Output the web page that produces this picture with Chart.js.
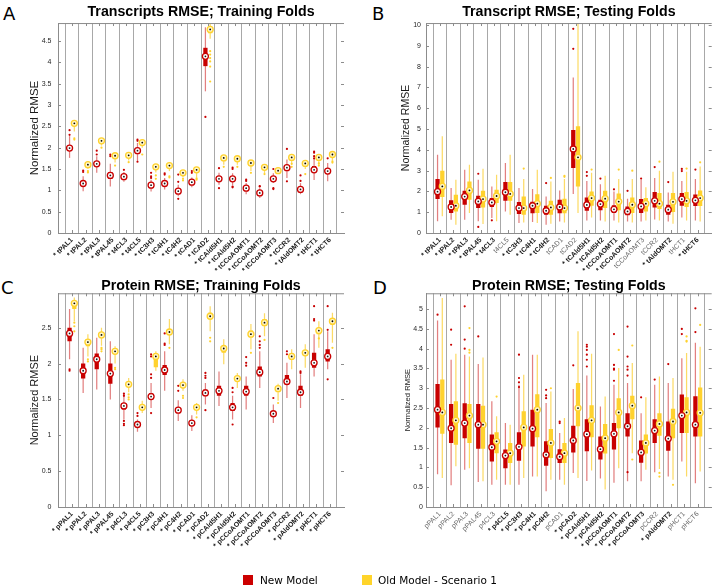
<!DOCTYPE html>
<html>
<head>
<meta charset="utf-8">
<script src="https://cdn.jsdelivr.net/npm/chart.js@4.4.0/dist/chart.umd.min.js"></script>
<style>
  html, body { margin: 0; padding: 0; background: #fff; width: 713px; height: 587px; overflow: hidden; position: relative; }
  canvas { position: absolute; }
  .tag { position: absolute; font: 18px "DejaVu Sans", sans-serif; line-height: 18px; color: #000; }
  .sq { position: absolute; top: 575px; width: 10px; height: 10px; }
  .leg { position: absolute; top: 573.5px; font: 10.5px "DejaVu Sans", sans-serif; line-height: 12px; color: #000; white-space: nowrap; }
</style>
</head>
<body>
<div class="tag" style="left:3px;top:5px">A</div>
<div class="tag" style="left:372px;top:5px">B</div>
<div class="tag" style="left:1px;top:279px">C</div>
<div class="tag" style="left:373px;top:279px">D</div>

<canvas id="cA" width="356" height="282" style="left:0;top:0"></canvas>
<canvas id="cB" width="360" height="282" style="left:356px;top:0"></canvas>
<canvas id="cC" width="356" height="307" style="left:0;top:280px"></canvas>
<canvas id="cD" width="360" height="307" style="left:356px;top:280px"></canvas>

<div class="sq" style="left:243px;background:#cc0000"></div>
<div class="leg" style="left:260px">New Model</div>
<div class="sq" style="left:362px;background:#ffd42a"></div>
<div class="leg" style="left:378px">Old Model - Scenario 1</div>

<script>
// gene names shared by all four panels
const genes = ['PAL1', 'PAL2', 'PAL3', 'PAL45', '4CL3', '4CL5', 'C3H3', 'C4H1', 'C4H2', 'CAD1',
               'CAD2', 'CAld5H1', 'CAld5H2', 'CCoAOMT1', 'CCoAOMT2', 'CCoAOMT3', 'CCR2', 'AldOMT2', 'HCT1', 'HCT6'];

// significance marks (* and bold label)
const sigA = [1,1,1,1,1,1,1,1,1,1,1,1,1,1,1,1,1,1,1,1];
const sigB = [1,1,1,1,1,0,1,1,1,0,0,1,1,1,1,0,0,1,0,1];
const sigC = [1,1,1,1,1,1,1,1,1,1,1,1,1,1,1,1,1,1,1,1];
const sigD = [0,0,0,0,0,1,1,1,1,0,1,1,1,1,1,1,0,1,0,0];

// A - transcripts, training folds
const aNewMed = [1.99,1.16,1.62,1.35,1.32,1.93,1.12,1.16,0.98,1.19,4.14,1.27,1.27,1.05,0.94,1.27,1.53,1.02,1.48,1.45];
const aNewBox = [[1.93,2.05],[1.11,1.2],[1.56,1.66],[1.27,1.43],[1.28,1.36],[1.88,1.97],[1.08,1.16],[1.12,1.2],[0.94,1.02],[1.15,1.23],
                 [3.91,4.34],[1.23,1.31],[1.23,1.31],[1.01,1.09],[0.9,0.98],[1.23,1.31],[1.48,1.57],[0.98,1.06],[1.44,1.57],[1.38,1.49]];
const aNewWhisk = [[1.76,2.27],[0.98,1.33],[1.41,1.8],[1.09,1.62],[1.2,1.43],[1.68,2.11],[0.97,1.25],[1.02,1.29],[0.86,1.13],[1.07,1.3],
                   [3.32,4.82],[1.13,1.41],[1.12,1.4],[0.91,1.17],[0.82,1.05],[1.17,1.4],[1.29,1.72],[0.91,1.17],[1.24,1.76],[1.21,1.64]];
const aNewOut = [[2.41,2.3],[1.43,1.46],[1.93,1.84],[1.84,1.8],[1.48],[2.19,2.16,1.67],[1.33,1.41,1.29],[1.37,1.4],[1.37,1.2,0.8],[1.41,1.45],
                 [2.72],[1.52,1.05],[1.5,1.53,1.07,1.09],[1.25,1.22],[1.09,1.1],[1.5,1.05,1.03],[1.97,1.21],[1.35,1.22],[1.91,1.88,1.8,1.75],[1.75]];
const aOldMed = [2.57,1.6,2.16,1.81,1.82,2.12,1.55,1.58,1.41,1.48,4.77,1.76,1.74,1.64,1.54,1.46,1.77,1.63,1.77,1.84];
const aOldBox = [[2.53,2.61],[1.56,1.63],[2.13,2.19],[1.78,1.84],[1.79,1.84],[2.09,2.15],[1.52,1.58],[1.55,1.61],[1.38,1.44],[1.45,1.51],
                 [4.68,4.83],[1.73,1.79],[1.71,1.77],[1.61,1.67],[1.51,1.57],[1.43,1.49],[1.74,1.8],[1.6,1.66],[1.74,1.8],[1.81,1.87]];
const aOldWhisk = [[2.38,2.64],[1.5,1.65],[2.05,2.2],[1.65,1.86],[1.7,1.86],[2,2.17],[1.42,1.6],[1.45,1.62],[1.3,1.45],[1.3,1.52],
                   [4.55,4.9],[1.6,1.8],[1.6,1.78],[1.45,1.68],[1.4,1.58],[1.38,1.5],[1.6,1.81],[1.5,1.67],[1.6,1.82],[1.7,1.88]];
const aOldOut = [[2.19,2.22],[1.42,1.45],[2],[1.58],[1.66],[1.84],[1.35,1.27],[1.33,1.3],[1.23,1.27],[1.25,1.28],
                 [4.26,4.18,4.1,4.02,3.9,3.55],[1.55],[1.55],[1.41],[1.38],[],[1.62,1.55],[1.38],[1.63,1.58],[1.65,1.68]];

// B - transcripts, testing folds
const bNewMed = [1.99,1.25,1.75,1.52,1.47,1.96,1.2,1.31,1.07,1.25,4.04,1.35,1.39,1.14,1.04,1.28,1.55,1.12,1.63,1.57];
const bNewBox = [[1.63,2.6],[0.96,1.57],[1.36,2.03],[1.2,1.79],[1.25,1.68],[1.55,2.45],[0.91,1.49],[0.95,1.5],[0.88,1.31],[0.95,1.6],
                 [3.13,4.95],[1.07,1.71],[1.09,1.6],[0.96,1.33],[0.85,1.28],[0.96,1.63],[1.23,1.97],[0.88,1.36],[1.31,1.92],[1.3,1.85]];
const bNewWhisk = [[0.56,3.77],[0.64,2.16],[0.64,3.04],[0.56,2.56],[0.72,2.24],[1.04,3.37],[0.48,2.16],[0.53,2.12],[0.4,1.76],[0.55,2.05],
                   [1.88,7.48],[0.6,2.5],[0.6,2.35],[0.6,2],[0.55,1.65],[0.55,2.55],[0.65,2.65],[0.55,1.95],[0.75,2.5],[0.6,2.6]];
const bNewOut = [[],[],[],[2.85,0.29],[0.61],[],[],[],[2.4],[],
                 [9.82,8.86],[2.93,2.75],[2.62],[2.1],[2.03],[2.62],[3.17],[2.45],[3.08,2.98],[3.05]];
const bOldMed = [2.24,1.31,2.05,1.63,1.78,1.88,1.2,1.41,1.23,1.2,3.64,1.68,1.65,1.51,1.36,1.41,1.41,1.5,1.55,1.68];
const bOldBox = [[1.73,3],[1.04,1.84],[1.6,2.48],[1.23,2.03],[1.44,2.08],[1.55,2.45],[0.88,1.76],[0.96,1.87],[0.88,1.55],[0.95,1.65],
                 [2.24,5.13],[1.31,2],[1.2,2.03],[1.1,1.9],[0.96,1.71],[1.04,1.68],[1.15,1.92],[1.01,1.92],[1.25,1.97],[1.3,2.05]];
const bOldWhisk = [[0.8,4.65],[0.4,2.56],[0.96,3.28],[0.43,3.09],[0.56,2.8],[0.88,3.77],[0.5,2.6],[0.48,3.04],[0.45,2.48],[0.5,2.6],
                   [0.96,10.1],[0.75,2.9],[0.55,2.75],[0.5,2.6],[0.5,2.6],[0.6,2.2],[0.6,3],[0.45,2.95],[0.6,2.95],[0.55,3.2]];
const bOldOut = [[],[],[],[],[],[],[3.1],[],[2.65],[2.75,2.7],
                 [],[3.05],[],[3.05],[3],[],[3.43],[],[3.1],[3.4]];

// C - proteins, training folds
const cNewMed = [2.42,1.9,2.06,1.86,1.41,1.15,1.54,1.91,1.35,1.17,1.59,1.62,1.39,1.61,1.88,1.3,1.75,1.6,2.01,2.1];
const cNewBox = [[2.31,2.5],[1.79,2],[1.92,2.14],[1.72,2],[1.36,1.45],[1.12,1.18],[1.5,1.59],[1.84,1.98],[1.31,1.38],[1.14,1.2],
                 [1.55,1.64],[1.55,1.69],[1.34,1.45],[1.55,1.69],[1.82,1.96],[1.27,1.33],[1.7,1.84],[1.55,1.69],[1.94,2.15],[2.03,2.2]];
const cNewWhisk = [[2.06,2.76],[1.59,2.22],[1.64,2.36],[1.5,2.31],[1.22,1.59],[1.05,1.22],[1.38,1.73],[1.62,2.17],[1.2,1.49],[1.06,1.28],
                   [1.43,1.73],[1.41,1.89],[1.22,1.55],[1.36,1.82],[1.66,2.17],[1.17,1.43],[1.52,2.01],[1.38,1.85],[1.82,2.41],[1.92,2.45]];
const cNewOut = [[1.92,1.9],[],[],[],[1.58,1.55,1.2,1.16,1.14],[1.31,1.27],[1.85,1.8,1.31,2.1,2.13],[2.26,2.28,2.42],[1.69,1.62],[],
                 [1.87,1.8,1.83,1.35],[],[1.66,1.6,1.15],[2.01,1.97,2.09],[2.31,2.26,2.22,2.38],[1.52],[2.17,2.13],[1.89,1.87],[2.62,2.6,2.8],[2.8,2.47,1.78]];
const cOldMed = [2.84,2.3,2.4,2.17,1.71,1.39,2.1,2.44,1.7,1.39,2.66,2.21,1.79,2.41,2.57,1.65,2.1,2.15,2.46,2.59];
const cOldBox = [[2.76,2.87],[2.24,2.34],[2.36,2.43],[2.14,2.21],[1.68,1.74],[1.36,1.42],[1.95,2.12],[2.4,2.48],[1.67,1.73],[1.36,1.42],
                 [2.62,2.71],[2.15,2.24],[1.76,1.82],[2.37,2.46],[2.53,2.62],[1.61,1.67],[2.07,2.14],[2.11,2.18],[2.41,2.5],[2.54,2.63]];
const cOldWhisk = [[2.59,2.92],[2.1,2.41],[2.25,2.5],[2,2.24],[1.6,1.8],[1.31,1.48],[1.9,2.17],[2.27,2.62],[1.62,1.78],[1.29,1.45],
                   [2.45,2.8],[1.99,2.34],[1.66,1.87],[2.2,2.55],[2.38,2.7],[1.48,1.72],[1.92,2.2],[1.94,2.27],[2.22,2.59],[2.29,2.71]];
const cOldOut = [[2.57,2.52,2.45],[2.03,2.06],[2.22,2.17,2.2],[1.94,1.92],[1.57,1.53,1.5],[],[],[2.22],[1.55,1.52],[1.25],
                 [2.36,2.31],[],[],[2.15],[2.33],[1.45],[],[],[2.35],[2.22]];

// D - proteins, testing folds
const dNewMed = [2.46,1.99,2.12,2.08,1.51,1.3,1.52,1.98,1.32,1.27,1.68,1.84,1.46,1.85,2.04,1.38,1.93,1.73,2.31,2.08];
const dNewBox = [[2.01,3.11],[1.62,2.6],[1.74,2.62],[1.47,2.6],[1.15,1.83],[0.98,1.45],[1.17,1.89],[1.53,2.46],[1.04,1.66],[1.11,1.46],
                 [1.38,2.05],[1.41,2.22],[1.2,1.78],[1.45,2.12],[1.78,2.37],[1.12,1.68],[1.62,2.22],[1.42,2.16],[1.87,2.84],[1.78,2.8]];
const dNewWhisk = [[0.83,4.71],[0.55,3.72],[0.94,3.85],[0.63,3.61],[0.56,2.67],[0.56,2.12],[0.56,3.09],[0.77,3.85],[0.4,2.63],[0.69,1.87],
                   [0.86,2.98],[0.66,3.32],[0.72,2.54],[0.61,3.09],[0.65,3.13],[0.65,2.37],[0.88,3.09],[0.77,3.13],[1.15,3.76],[0.6,4.15]];
const dNewOut = [[4.86],[4.48,4.1],[5.07,4.23,4],[4.31],[],[],[3.85,3.26,3.15,3.03],[],[2.96,2.82,2.75],[2.16,2.12],
                 [3.58],[4.1,4.05,3.97,3.85,3.72,3.55],[],[4.37,3.59,3.5,3.47,3.19],[4.56,3.8,3.55,3.47,3.32,0.88],[2.77],[3.22],[3.61],[4.5,4.37],[5.02,4.42]];
const dOldMed = [2.39,2.19,2.31,2.08,1.66,1.36,2.01,2.46,1.62,1.36,2.5,2.19,1.74,2.39,2.56,1.62,2.1,2.16,2.39,2.38];
const dOldBox = [[1.85,3.22],[1.57,2.67],[1.62,2.6],[1.47,2.56],[1.36,1.89],[1.11,1.62],[1.53,2.42],[1.76,2.85],[1.24,1.97],[1.11,1.62],
                 [2.04,3.13],[1.76,2.57],[1.35,2.1],[1.99,2.75],[2.22,2.81],[1.35,1.83],[1.8,2.37],[1.74,2.48],[1.87,2.77],[1.78,3.02]];
const dOldWhisk = [[0.73,5.28],[1.03,3.87],[0.98,3.8],[0.65,3.78],[0.69,2.29],[0.56,2.08],[0.73,3.34],[0.77,3.85],[0.69,2.92],[0.56,2.25],
                   [0.73,4.44],[0.92,3.87],[0.44,2.79],[0.98,3.51],[1.36,3.64],[0.94,2.77],[0.96,3.3],[0.69,3.26],[0.77,3.89],[0.9,4.05]];
const dOldOut = [[],[],[4.52,3.97,3.9],[],[2.79],[],[],[],[3],[],
                 [],[],[],[3.97],[4.08,1.2],[],[0.86,0.77],[0.56],[4.31,4.2,4.18],[4.6]];

const RED = '#c80000', RED_W = 'rgba(200,0,0,0.5)';
const YEL = '#ffd22e', YEL_W = 'rgba(250,195,0,0.6)';
const AXIS = '#8c8c8c';
const CAT = 0.7;

// top edge of the box plus MATLAB style inward ticks
const frame = {
  id: 'frame',
  afterDraw(chart) {
    const {ctx, chartArea: a, scales} = chart;
    const seg = (x1, y1, x2, y2) => { ctx.beginPath(); ctx.moveTo(x1, y1); ctx.lineTo(x2, y2); ctx.stroke(); };
    ctx.save();
    ctx.strokeStyle = AXIS;
    ctx.lineWidth = 1;
    seg(a.left, a.top + 0.5, a.right, a.top + 0.5);
    scales.y.ticks.forEach(t => {
      const y = Math.round(scales.y.getPixelForValue(t.value)) + 0.5;
      seg(a.left, y, a.left + 3, y);
      seg(a.right - 3, y, a.right, y);
    });
    scales.x.ticks.forEach(t => {
      const x = Math.round(scales.x.getPixelForValue(t.value)) + 0.5;
      seg(x, a.top, x, a.top + 3);
      seg(x, a.bottom - 3, x, a.bottom);
    });
    ctx.restore();
  }
};

function panel(id, p) {
  const off = CAT / 4;
  const at = (arr, d) => arr.map((v, i) => ({x: i + d, y: v}));
  const spread = (arr, d) => arr.flatMap((vs, i) => vs.map(v => ({x: i + d, y: v})));
  const pts = (data, r, fill, stroke, bw) => ({
    type: 'scatter', data,
    pointRadius: r, pointHoverRadius: r, pointBackgroundColor: fill, pointBorderColor: stroke, pointBorderWidth: bw
  });
  const bar = (vals, stack, pct, color) => ({
    type: 'bar', stack, data: vals.map((v, i) => ({x: i, y: v})),
    barPercentage: pct, categoryPercentage: CAT, backgroundColor: color, borderWidth: 0
  });
  const labels = genes.map((g, i) => (p.sig[i] ? '* ' : '') + p.prefix + g);

  new Chart(document.getElementById(id), {
    type: 'bar',
    data: {
      datasets: [
        pts(at(p.newMed, -off), 0.9, '#1a1a1a', '#1a1a1a', 0),
        pts(at(p.oldMed, off), 0.9, '#000', '#000', 0),
        pts(at(p.newMed, -off), 3, '#fff', RED, 1.3),
        pts(at(p.oldMed, off), 3, '#fff7cc', YEL, 1.3),
        pts(spread(p.newOut, -off), 1.1, RED, RED, 0),
        pts(spread(p.oldOut, off), 1.1, YEL, YEL, 0),
        bar(p.newBox, 'new', 0.9, RED),
        bar(p.oldBox, 'old', 0.9, YEL),
        bar(p.newWhisk, 'new', 0.26, RED_W),
        bar(p.oldWhisk, 'old', 0.26, YEL_W)
      ]
    },
    options: {
      responsive: false,
      animation: false,
      events: [],
      layout: {padding: {left: 0, right: p.padRight, top: 0, bottom: 0}},
      plugins: {
        legend: {display: false},
        tooltip: {enabled: false},
        title: {
          display: true, text: p.title, fullSize: false, color: '#000',
          font: {family: 'Liberation Sans', size: 14.2, weight: 'bold', lineHeight: p.titleLH},
          padding: p.titlePad
        }
      },
      scales: {
        x: {
          type: 'linear',
          stacked: true,
          min: -0.5, max: genes.length - 0.5,
          afterBuildTicks: s => { s.ticks = genes.map((g, i) => ({value: i})); },
          grid: {offset: true, color: '#a8a8a8', drawTicks: false},
          border: {color: AXIS},
          ticks: {
            autoSkip: false, minRotation: 45, maxRotation: 45, padding: 3,
            callback: (v, i) => labels[i],
            font: c => ({family: 'Liberation Sans', size: 7, weight: p.sig[c.index] ? 'bold' : 'normal'}),
            color: c => p.sig[c.index] ? '#1a1a1a' : '#666'
          },
          afterFit: s => { s.height = p.xH; s.paddingLeft = 0; s.paddingRight = 0; }
        },
        y: {
          min: 0, max: p.yMax, stacked: false,
          grid: {display: false, drawTicks: false},
          border: {color: AXIS},
          ticks: {
            stepSize: p.step, includeBounds: false, padding: p.tickPad, color: '#262626',
            font: {family: 'Liberation Sans', size: 7},
            callback: v => String(+v.toFixed(2))
          },
          title: {
            display: true, text: 'Normalized RMSE', color: '#1a1a1a',
            font: {family: 'Liberation Sans', size: p.yTitleSize},
            padding: {top: p.yTitlePad, bottom: 0}
          },
          afterFit: s => { s.width = p.yW; s.paddingTop = 0; s.paddingBottom = 0; }
        }
      }
    },
    plugins: [frame]
  });
}

panel('cA', {
  title: 'Transcripts RMSE; Training Folds', prefix: 't', sig: sigA,
  newMed: aNewMed, newBox: aNewBox, newWhisk: aNewWhisk, newOut: aNewOut,
  oldMed: aOldMed, oldBox: aOldBox, oldWhisk: aOldWhisk, oldOut: aOldOut,
  yMax: 4.92, step: 0.5, yW: 58, padRight: 12, xH: 49,
  titleLH: 1.2, titlePad: {top: 3.8, bottom: 2.2}, tickPad: 6.5, yTitleSize: 11.5, yTitlePad: 28
});
panel('cB', {
  title: 'Transcript RMSE; Testing Folds', prefix: 't', sig: sigB,
  newMed: bNewMed, newBox: bNewBox, newWhisk: bNewWhisk, newOut: bNewOut,
  oldMed: bOldMed, oldBox: bOldBox, oldWhisk: bOldWhisk, oldOut: bOldOut,
  yMax: 10.1, step: 1, yW: 70, padRight: 4, xH: 49,
  titleLH: 1.2, titlePad: {top: 3.8, bottom: 2.2}, tickPad: 5, yTitleSize: 10.5, yTitlePad: 43.5
});
panel('cC', {
  title: 'Protein RMSE; Training Folds', prefix: 'p', sig: sigC,
  newMed: cNewMed, newBox: cNewBox, newWhisk: cNewWhisk, newOut: cNewOut,
  oldMed: cOldMed, oldBox: cOldBox, oldWhisk: cOldWhisk, oldOut: cOldOut,
  yMax: 2.98, step: 0.5, yW: 58, padRight: 12, xH: 80,
  titleLH: 0.9, titlePad: {top: 0.1, bottom: 0.4}, tickPad: 6.5, yTitleSize: 11, yTitlePad: 28.4
});
panel('cD', {
  title: 'Protein RMSE; Testing Folds', prefix: 'p', sig: sigD,
  newMed: dNewMed, newBox: dNewBox, newWhisk: dNewWhisk, newOut: dNewOut,
  oldMed: dOldMed, oldBox: dOldBox, oldWhisk: dOldWhisk, oldOut: dOldOut,
  yMax: 5.4, step: 0.5, yW: 70, padRight: 4, xH: 80,
  titleLH: 0.9, titlePad: {top: 0.1, bottom: 0.4}, tickPad: 3, yTitleSize: 7.6, yTitlePad: 47
});
</script>
</body>
</html>
